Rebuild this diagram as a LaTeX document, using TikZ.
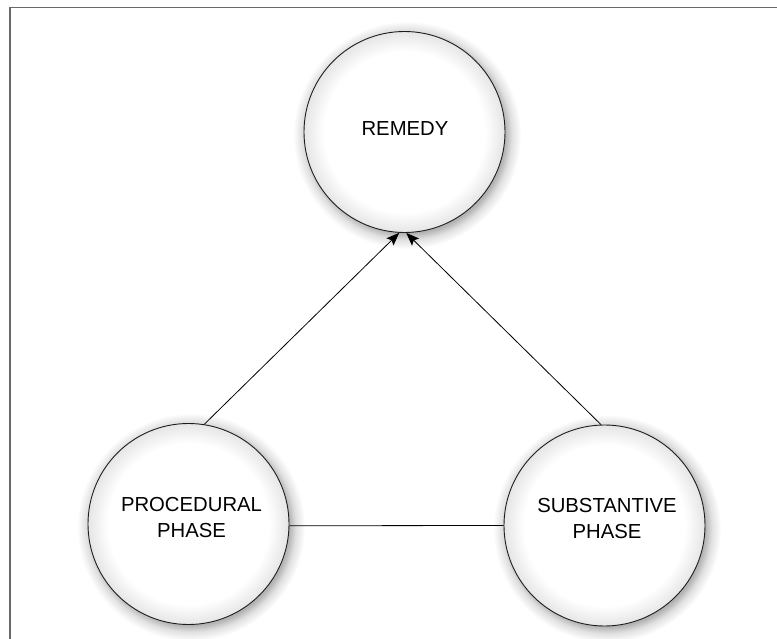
\documentclass[tikz,border=0pt]{standalone}
\usepackage{fontspec}
\setmainfont{Liberation Sans}
\usetikzlibrary{arrows.meta}
\definecolor{framegray}{RGB}{105,105,105}
\definecolor{ringcol}{RGB}{30,30,30}
\pgfdeclareradialshading{vignette}{\pgfpoint{0bp}{0bp}}{%
  color(0bp)=(white); color(20bp)=(white); color(25bp)=(black!10); color(50bp)=(black!10)}
\pgfdeclareradialshading{glow}{\pgfpoint{0bp}{0bp}}{%
  color(0bp)=(black!30); color(21.5bp)=(black!30); color(23bp)=(black!12); color(25bp)=(white); color(50bp)=(white)}
\tikzset{
  phase/.style={circle, draw=ringcol, line width=0.9pt, shading=vignette, minimum size=201pt, inner sep=0pt},
  halo/.style={shading=glow},
  lbl/.style={align=center, font=\fontsize{20.3}{26}\selectfont, inner sep=0pt},
  conn/.style={draw=black, line width=0.8pt},
  arr/.style={conn, -{Stealth[length=13pt,width=10pt,inset=2.5pt]}}
}
\begin{document}
\begin{tikzpicture}[x=1pt,y=-1pt]
\useasboundingbox (0,0) rectangle (777,639);
\fill[white] (0,0) rectangle (777,639);
\begin{scope}
\clip (0,0) rectangle (777,639);
\draw[framegray, line width=1.6pt] (10,7.5) rectangle (800,700);
\shade[halo] (407,135) circle[radius=114];
\shade[halo] (191,527) circle[radius=114];
\shade[halo] (607,528.5) circle[radius=114];
\end{scope}
\node[phase] (r) at (404.5,132) {};
\node[phase] (p) at (188.5,524) {};
\node[phase] (s) at (604.5,525.5) {};
\node[lbl] (rt) at (405,129) {REMEDY};
\node[lbl] (pt) at (191.5,517.5) {PROCEDURAL\\PHASE};
\node[lbl] (st) at (607,519) {SUBSTANTIVE\\PHASE};
\draw[arr] (p.81.7) -- (r.267.5);
\draw[arr] (s.92.5) -- (r.271);
\draw[conn] (p.-1.7) -- (s.180.9);
\end{tikzpicture}
\end{document}
